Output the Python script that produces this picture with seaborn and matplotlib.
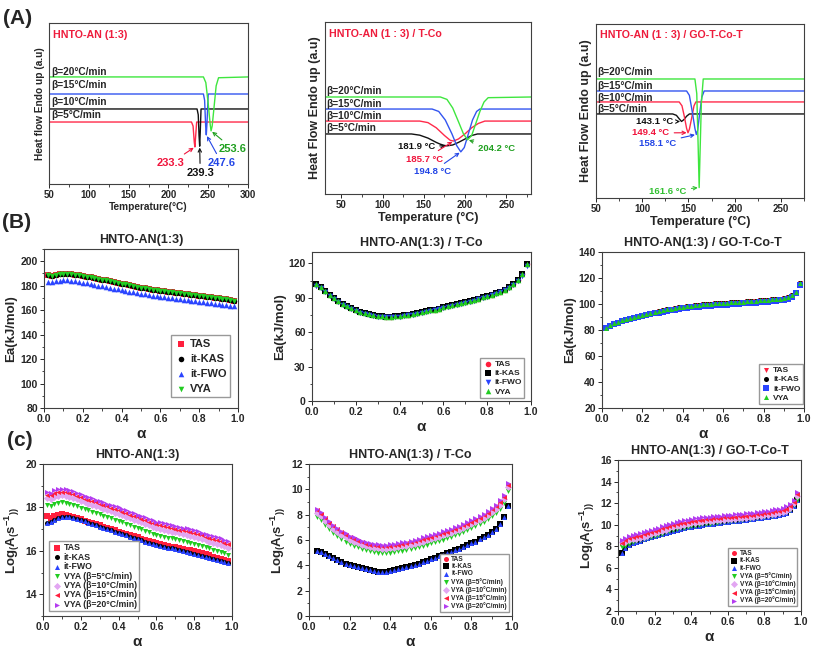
import numpy as np
import pandas as pd
import matplotlib
matplotlib.use("Agg")
import matplotlib.pyplot as plt
import seaborn as sns
from matplotlib.ticker import AutoMinorLocator

# ---------------- DSC curves (row A) ----------------
beta_labels = ['β=5°C/min', 'β=10°C/min', 'β=15°C/min', 'β=20°C/min']

a1_t5 = [50, 229, 231, 232.5, 233.3, 234, 235.5, 300]
a1_h5 = [3.85, 3.85, 3.6, 2.6, 2.3, 2.8, 3.85, 3.85]
a1_t10 = [50, 236, 237.5, 238.5, 239.3, 240, 241, 300]
a1_h10 = [4.66, 4.66, 4.3, 3.0, 2.35, 3.2, 4.66, 4.66]
a1_t15 = [50, 244, 245.5, 246.8, 247.6, 248.5, 250, 300]
a1_h15 = [5.59, 5.59, 5.2, 3.6, 3.05, 3.8, 5.59, 5.59]
a1_t20 = [50, 244, 247, 250, 252.5, 253.6, 255, 257, 260, 263, 300]
a1_h20 = [6.65, 6.65, 6.3, 5.0, 3.7, 3.3, 3.6, 4.6, 6.1, 6.6, 6.65]
a1_peaks = [233.3, 239.3, 247.6, 253.6]

a2_t5 = [30, 135, 145, 155, 165, 172, 178, 185, 192, 200, 208, 215, 280]
a2_h5 = [3.49, 3.49, 3.42, 3.25, 3.0, 2.85, 2.8, 2.85, 3.0, 3.2, 3.4, 3.49, 3.49]
a2_t10 = [30, 145, 155, 165, 175, 182, 186, 192, 200, 208, 216, 224, 280]
a2_h10 = [4.24, 4.24, 4.15, 3.85, 3.4, 3.12, 3.08, 3.2, 3.5, 3.85, 4.1, 4.24, 4.24]
a2_t15 = [30, 160, 168, 176, 184, 190, 194.8, 199, 204, 209, 214, 218, 280]
a2_h15 = [4.94, 4.94, 4.8, 4.3, 3.5, 2.8, 2.45, 2.7, 3.5, 4.3, 4.8, 4.94, 4.94]
a2_t20 = [30, 170, 178, 185, 192, 198, 203, 208, 213, 218, 223, 228, 280]
a2_h20 = [5.64, 5.64, 5.5, 5.0, 4.2, 3.5, 3.15, 3.4, 4.1, 4.8, 5.35, 5.6, 5.64]
a2_peaks = [181.9, 185.7, 194.8, 204.2]

a3_t5 = [50, 133, 137, 140, 142.5, 145, 148, 151, 275]
a3_h5 = [4.83, 4.83, 4.75, 4.55, 4.4, 4.5, 4.7, 4.83, 4.83]
a3_t10 = [50, 140, 143, 145.5, 148, 149.5, 151, 153.5, 156, 158, 275]
a3_h10 = [5.52, 5.52, 5.3, 4.7, 4.0, 3.75, 3.95, 4.6, 5.3, 5.52, 5.52]
a3_t15 = [50, 148, 151, 154, 157, 158.5, 160, 162, 164.5, 167, 275]
a3_h15 = [6.15, 6.15, 5.9, 5.0, 4.0, 3.65, 3.9, 4.8, 5.8, 6.15, 6.15]
a3_t20 = [50, 157, 159, 160.5, 161.6, 162.5, 164, 166, 275]
a3_h20 = [6.84, 6.84, 6.0, 3.0, 0.6, 2.5, 5.5, 6.84, 6.84]
a3_peaks = [143.1, 149.4, 158.1, 161.6]

# ---------------- conversion grid ----------------
alpha = [0.02, 0.04, 0.06, 0.08, 0.10, 0.12, 0.14, 0.16, 0.18, 0.20,
         0.22, 0.24, 0.26, 0.28, 0.30, 0.32, 0.34, 0.36, 0.38, 0.40,
         0.42, 0.44, 0.46, 0.48, 0.50, 0.52, 0.54, 0.56, 0.58, 0.60,
         0.62, 0.64, 0.66, 0.68, 0.70, 0.72, 0.74, 0.76, 0.78, 0.80,
         0.82, 0.84, 0.86, 0.88, 0.90, 0.92, 0.94, 0.96, 0.98]
alpha_c2 = alpha[1:]

# ---------------- Ea (row B) ----------------
b1_ea_main = [188.5, 188.0, 188.8, 189.5, 189.6, 189.5, 189.4, 189.0, 188.6, 188.0,
              187.5, 186.9, 186.3, 185.7, 185.0, 184.4, 183.7, 183.0, 182.3, 181.6,
              181.0, 180.3, 179.7, 179.1, 178.5, 177.9, 177.3, 176.8, 176.2, 175.7,
              175.3, 174.9, 174.5, 174.1, 173.7, 173.3, 172.9, 172.5, 172.1, 171.7,
              171.3, 170.9, 170.5, 170.1, 169.7, 169.3, 168.9, 168.4, 167.8]
b1_ea_fwo = [183.0, 182.8, 183.5, 184.2, 184.4, 184.3, 184.1, 183.7, 183.2, 182.6,
             182.0, 181.4, 180.8, 180.1, 179.5, 178.8, 178.1, 177.5, 176.9, 176.3,
             175.7, 175.1, 174.5, 173.9, 173.3, 172.8, 172.3, 171.8, 171.3, 170.9,
             170.5, 170.1, 169.7, 169.3, 168.9, 168.5, 168.1, 167.7, 167.3, 166.9,
             166.5, 166.1, 165.7, 165.3, 164.9, 164.5, 164.1, 163.6, 163.0]

b2_ea_main = [102.0, 99.6, 96.0, 92.8, 89.8, 87.0, 84.6, 82.6, 80.8, 79.2,
              77.8, 76.6, 75.6, 74.8, 74.2, 73.8, 73.6, 73.6, 73.8, 74.2,
              74.7, 75.3, 76.0, 76.7, 77.4, 78.2, 79.0, 79.8, 80.7, 81.6,
              82.5, 83.4, 84.3, 85.2, 86.2, 87.2, 88.2, 89.3, 90.4, 91.6,
              92.8, 94.0, 95.5, 97.2, 99.5, 102.0, 105.5, 110.5, 119.5]
b2_ea_fwo = [100.5, 98.4, 95.0, 91.9, 89.0, 86.3, 84.0, 82.0, 80.2, 78.6,
             77.2, 76.0, 75.0, 74.2, 73.6, 73.2, 73.0, 73.0, 73.2, 73.6,
             74.1, 74.7, 75.4, 76.1, 76.8, 77.6, 78.4, 79.2, 80.1, 81.0,
             81.9, 82.8, 83.7, 84.6, 85.6, 86.6, 87.6, 88.7, 89.8, 91.0,
             92.2, 93.4, 94.9, 96.6, 98.8, 101.2, 104.5, 109.0, 117.5]

b3_ea_main = [81.8, 83.6, 85.2, 86.5, 87.6, 88.6, 89.5, 90.3, 91.1, 91.9,
              92.6, 93.3, 94.0, 94.7, 95.3, 95.9, 96.5, 97.0, 97.5, 98.0,
              98.4, 98.8, 99.2, 99.5, 99.8, 100.1, 100.3, 100.5, 100.7, 100.9,
              101.1, 101.3, 101.5, 101.7, 101.9, 102.1, 102.3, 102.5, 102.7, 102.9,
              103.2, 103.5, 103.8, 104.2, 104.7, 105.4, 106.6, 109.5, 116.5]
b3_ea_fwo = [81.2, 82.8, 84.3, 85.5, 86.6, 87.5, 88.4, 89.2, 90.0, 90.7,
             91.4, 92.1, 92.8, 93.4, 94.0, 94.6, 95.1, 95.6, 96.1, 96.6,
             97.0, 97.4, 97.7, 98.0, 98.3, 98.6, 98.8, 99.0, 99.2, 99.4,
             99.6, 99.8, 100.0, 100.2, 100.4, 100.6, 100.8, 101.0, 101.2, 101.4,
             101.7, 102.0, 102.3, 102.7, 103.2, 104.0, 105.4, 108.3, 114.5]

# ---------------- log A (row C) ----------------
c1_tas = [17.60, 17.52, 17.60, 17.66, 17.68, 17.66, 17.62, 17.57, 17.51, 17.45,
          17.39, 17.34, 17.28, 17.22, 17.17, 17.11, 17.05, 17.00, 16.94, 16.88,
          16.83, 16.78, 16.72, 16.67, 16.62, 16.56, 16.51, 16.46, 16.40, 16.35,
          16.31, 16.27, 16.24, 16.20, 16.16, 16.13, 16.09, 16.05, 16.02, 15.98,
          15.93, 15.88, 15.84, 15.79, 15.74, 15.69, 15.64, 15.60, 15.55]
c1_iso = [17.30, 17.32, 17.42, 17.52, 17.57, 17.58, 17.57, 17.53, 17.48, 17.42,
          17.36, 17.30, 17.24, 17.18, 17.12, 17.06, 17.00, 16.94, 16.88, 16.82,
          16.76, 16.71, 16.65, 16.60, 16.54, 16.49, 16.43, 16.38, 16.32, 16.27,
          16.23, 16.19, 16.15, 16.11, 16.07, 16.03, 15.99, 15.95, 15.91, 15.87,
          15.82, 15.77, 15.73, 15.68, 15.63, 15.58, 15.54, 15.49, 15.44]
c1_vya5 = [18.10, 18.06, 18.16, 18.22, 18.24, 18.22, 18.18, 18.12, 18.05, 17.98,
           17.92, 17.86, 17.80, 17.74, 17.68, 17.62, 17.56, 17.50, 17.44, 17.38,
           17.31, 17.25, 17.18, 17.12, 17.05, 16.99, 16.92, 16.86, 16.79, 16.73,
           16.69, 16.65, 16.61, 16.57, 16.53, 16.49, 16.45, 16.41, 16.37, 16.33,
           16.28, 16.22, 16.17, 16.11, 16.06, 16.00, 15.95, 15.89, 15.83]
c1_vya10 = [18.42, 18.38, 18.48, 18.54, 18.56, 18.54, 18.50, 18.44, 18.37, 18.30,
            18.24, 18.18, 18.12, 18.06, 18.00, 17.94, 17.88, 17.82, 17.76, 17.70,
            17.63, 17.57, 17.50, 17.44, 17.37, 17.31, 17.24, 17.18, 17.11, 17.05,
            17.01, 16.97, 16.93, 16.89, 16.85, 16.81, 16.77, 16.73, 16.69, 16.65,
            16.60, 16.54, 16.49, 16.43, 16.38, 16.32, 16.27, 16.21, 16.15]
c1_vya15 = [18.59, 18.55, 18.65, 18.71, 18.73, 18.71, 18.67, 18.61, 18.54, 18.47,
            18.41, 18.35, 18.29, 18.23, 18.17, 18.11, 18.05, 17.99, 17.93, 17.87,
            17.80, 17.74, 17.67, 17.61, 17.54, 17.48, 17.41, 17.35, 17.28, 17.22,
            17.18, 17.14, 17.10, 17.06, 17.02, 16.98, 16.94, 16.90, 16.86, 16.82,
            16.77, 16.71, 16.66, 16.60, 16.55, 16.49, 16.44, 16.38, 16.32]
c1_vya20 = [18.72, 18.68, 18.78, 18.84, 18.86, 18.84, 18.80, 18.74, 18.67, 18.60,
            18.54, 18.48, 18.42, 18.36, 18.30, 18.24, 18.18, 18.12, 18.06, 18.00,
            17.93, 17.87, 17.80, 17.74, 17.67, 17.61, 17.54, 17.48, 17.41, 17.35,
            17.31, 17.27, 17.23, 17.19, 17.15, 17.11, 17.07, 17.03, 16.99, 16.95,
            16.90, 16.84, 16.79, 16.73, 16.68, 16.62, 16.57, 16.51, 16.45]

c2_tas = [8.25, 8.00, 7.65, 7.30, 7.00, 6.75, 6.52, 6.32, 6.15,
          6.00, 5.86, 5.74, 5.64, 5.56, 5.50, 5.46, 5.44, 5.44, 5.46,
          5.50, 5.55, 5.61, 5.68, 5.75, 5.83, 5.91, 6.00, 6.09, 6.18,
          6.28, 6.38, 6.48, 6.59, 6.70, 6.82, 6.94, 7.07, 7.21, 7.36,
          7.52, 7.69, 7.88, 8.09, 8.33, 8.60, 8.92, 9.35, 10.30]
c2_iso = [5.10, 5.02, 4.88, 4.72, 4.56, 4.40, 4.26, 4.14, 4.03,
          3.93, 3.84, 3.76, 3.68, 3.60, 3.53, 3.48, 3.46, 3.48, 3.53,
          3.60, 3.68, 3.76, 3.85, 3.94, 4.04, 4.14, 4.25, 4.36, 4.47,
          4.58, 4.70, 4.82, 4.94, 5.06, 5.19, 5.32, 5.45, 5.59, 5.73,
          5.88, 6.04, 6.21, 6.40, 6.62, 6.90, 7.30, 7.85, 8.65]
c2_vya5 = [7.80, 7.55, 7.20, 6.85, 6.55, 6.30, 6.07, 5.87, 5.70,
           5.55, 5.41, 5.29, 5.19, 5.11, 5.05, 5.01, 4.99, 4.99, 5.01,
           5.05, 5.10, 5.16, 5.23, 5.30, 5.38, 5.46, 5.55, 5.64, 5.73,
           5.83, 5.93, 6.03, 6.14, 6.25, 6.37, 6.49, 6.62, 6.76, 6.91,
           7.07, 7.24, 7.43, 7.64, 7.88, 8.15, 8.47, 8.95, 9.90]
c2_vya10 = [8.13, 7.88, 7.53, 7.18, 6.88, 6.63, 6.40, 6.20, 6.03,
            5.88, 5.74, 5.62, 5.52, 5.44, 5.38, 5.34, 5.32, 5.32, 5.34,
            5.38, 5.43, 5.49, 5.56, 5.63, 5.71, 5.79, 5.88, 5.97, 6.06,
            6.16, 6.26, 6.36, 6.47, 6.58, 6.70, 6.82, 6.95, 7.09, 7.24,
            7.40, 7.57, 7.76, 7.97, 8.21, 8.48, 8.80, 9.23, 10.18]
c2_vya15 = [8.33, 8.08, 7.73, 7.38, 7.08, 6.83, 6.60, 6.40, 6.23,
            6.08, 5.94, 5.82, 5.72, 5.64, 5.58, 5.54, 5.52, 5.52, 5.54,
            5.58, 5.63, 5.69, 5.76, 5.83, 5.91, 5.99, 6.08, 6.17, 6.26,
            6.36, 6.46, 6.56, 6.67, 6.78, 6.90, 7.02, 7.15, 7.29, 7.44,
            7.60, 7.77, 7.96, 8.17, 8.41, 8.68, 9.00, 9.43, 10.38]
c2_vya20 = [8.45, 8.20, 7.85, 7.50, 7.20, 6.95, 6.72, 6.52, 6.35,
            6.20, 6.06, 5.94, 5.84, 5.76, 5.70, 5.66, 5.64, 5.64, 5.66,
            5.70, 5.75, 5.81, 5.88, 5.95, 6.03, 6.11, 6.20, 6.29, 6.38,
            6.48, 6.58, 6.68, 6.79, 6.90, 7.02, 7.14, 7.27, 7.41, 7.56,
            7.72, 7.89, 8.08, 8.29, 8.53, 8.80, 9.12, 9.55, 10.50]

c3_tas = [8.25, 8.45, 8.62, 8.74, 8.82, 8.90, 9.00, 9.10, 9.22, 9.33,
          9.44, 9.55, 9.65, 9.75, 9.85, 9.94, 10.02, 10.10, 10.17, 10.23,
          10.28, 10.33, 10.37, 10.41, 10.45, 10.48, 10.51, 10.54, 10.57, 10.60,
          10.63, 10.66, 10.69, 10.72, 10.75, 10.79, 10.83, 10.87, 10.91, 10.96,
          11.01, 11.07, 11.13, 11.20, 11.28, 11.40, 11.62, 12.05, 12.75]
c3_iso = [7.35, 7.85, 8.10, 8.26, 8.40, 8.52, 8.63, 8.73, 8.83, 8.93,
          9.03, 9.13, 9.23, 9.33, 9.43, 9.52, 9.60, 9.68, 9.75, 9.81,
          9.87, 9.92, 9.97, 10.02, 10.06, 10.10, 10.14, 10.18, 10.22, 10.26,
          10.30, 10.34, 10.38, 10.42, 10.46, 10.50, 10.54, 10.58, 10.62, 10.67,
          10.72, 10.78, 10.84, 10.91, 10.99, 11.10, 11.35, 11.75, 12.25]
c3_vya5 = [7.95, 8.05, 8.22, 8.36, 8.48, 8.58, 8.68, 8.78, 8.88, 8.98,
           9.08, 9.18, 9.28, 9.38, 9.48, 9.57, 9.65, 9.73, 9.80, 9.86,
           9.92, 9.97, 10.02, 10.07, 10.11, 10.15, 10.19, 10.23, 10.27, 10.31,
           10.35, 10.39, 10.43, 10.47, 10.51, 10.55, 10.59, 10.63, 10.67, 10.72,
           10.77, 10.83, 10.89, 10.96, 11.04, 11.15, 11.40, 11.80, 12.30]
c3_vya10 = [8.40, 8.38, 8.55, 8.65, 8.72, 8.80, 8.90, 9.00, 9.12, 9.23,
            9.34, 9.45, 9.55, 9.65, 9.75, 9.84, 9.92, 10.00, 10.07, 10.13,
            10.18, 10.23, 10.27, 10.31, 10.35, 10.38, 10.41, 10.44, 10.47, 10.50,
            10.53, 10.56, 10.59, 10.62, 10.65, 10.69, 10.73, 10.77, 10.81, 10.86,
            10.91, 10.97, 11.03, 11.10, 11.18, 11.30, 11.55, 11.98, 12.70]
c3_vya15 = [8.35, 8.60, 8.75, 8.85, 8.92, 9.00, 9.10, 9.20, 9.32, 9.43,
            9.54, 9.65, 9.75, 9.85, 9.95, 10.04, 10.12, 10.20, 10.27, 10.33,
            10.38, 10.43, 10.47, 10.51, 10.55, 10.58, 10.61, 10.64, 10.67, 10.70,
            10.73, 10.76, 10.79, 10.82, 10.85, 10.89, 10.93, 10.97, 11.01, 11.06,
            11.11, 11.17, 11.23, 11.30, 11.38, 11.50, 11.72, 12.12, 12.85]
c3_vya20 = [8.55, 8.80, 8.95, 9.05, 9.12, 9.20, 9.30, 9.40, 9.52, 9.63,
            9.74, 9.85, 9.95, 10.05, 10.15, 10.24, 10.32, 10.40, 10.47, 10.53,
            10.58, 10.63, 10.67, 10.71, 10.75, 10.78, 10.81, 10.84, 10.87, 10.90,
            10.93, 10.96, 10.99, 11.02, 11.05, 11.09, 11.13, 11.17, 11.21, 11.26,
            11.31, 11.37, 11.43, 11.50, 11.58, 11.70, 11.90, 12.30, 13.00]

# ---------------- style ----------------
sns.set_style("ticks")
plt.rcParams.update({
    'font.family': ['Liberation Sans', 'DejaVu Sans'],
    'font.weight': 'bold',
    'axes.labelweight': 'bold',
    'axes.titleweight': 'bold',
    'mathtext.fontset': 'custom',
    'mathtext.rm': 'Liberation Sans:bold',
    'mathtext.bf': 'Liberation Sans:bold',
    'mathtext.default': 'rm',
    'axes.linewidth': 0.8,
    'axes.edgecolor': '0.25',
    'xtick.major.size': 3, 'ytick.major.size': 3,
    'xtick.minor.size': 1.8, 'ytick.minor.size': 1.8,
    'xtick.major.width': 0.7, 'ytick.major.width': 0.7,
    'xtick.major.pad': 1.5, 'ytick.major.pad': 1.5,
})

RED, BLACK, BLUE, GREEN = '#ff1f3d', '#000000', '#2b45ff', '#22cc22'
PINK, VIOLET = '#e2a6f2', '#b43cf0'
L_BLK, L_RED, L_BLU, L_GRN = '#111111', '#ff2a4a', '#3355f0', '#3ee63e'
N_BLK, N_RED, N_BLU, N_GRN = '#111111', '#f0143c', '#2346e6', '#20a020'
title_red = '#ee1c3c'

W, H = 813, 649
fig = plt.figure(figsize=(W / 100, H / 100), dpi=100)


def place(l, t, r, b):
    return fig.add_axes([l / W, 1 - b / H, (r - l) / W, (b - t) / H])


def dsc_panel(box, curves, peaks, line_cols, note_cols, xlim, xticks, title, title_y,
              ylab, xlab, lab_fs, lab_y, lab_x, notes, unit, note_fs):
    ax = place(*box)
    for (t, h), c in zip(curves, line_cols):
        sns.lineplot(x=t, y=h, ax=ax, color=c, lw=1.0, sort=False, estimator=None)
    ax.set_xlim(xlim)
    ax.set_ylim(0, 10)
    ax.set_yticks([])
    ax.set_xticks(xticks)
    ax.xaxis.set_minor_locator(AutoMinorLocator(2))
    ax.tick_params(axis='x', labelsize=7)
    ax.set_xlabel(xlab, fontsize=lab_fs, labelpad=1)
    ax.set_ylabel(ylab, fontsize=lab_fs, labelpad=3)
    for txt, y in zip(beta_labels, lab_y):
        ax.text(lab_x, y, txt, fontsize=7.3, va='center')
    ax.text(0.02, title_y, title, transform=ax.transAxes, color=title_red,
            fontsize=7.7, va='center')
    for i, (t, h) in enumerate(curves):
        k = int(np.argmin(h))
        ax.annotate(f"{peaks[i]}{unit}", xy=(t[k], h[k]), xytext=notes[i],
                    fontsize=note_fs, color=note_cols[i], ha='center', va='center',
                    arrowprops=dict(arrowstyle='->', color=note_cols[i], lw=0.8,
                                    mutation_scale=6, shrinkA=1, shrinkB=1))
    return ax


dsc_panel((49, 23, 248, 184),
          [(a1_t5, a1_h5), (a1_t10, a1_h10), (a1_t15, a1_h15), (a1_t20, a1_h20)],
          a1_peaks, [L_RED, L_BLK, L_BLU, L_GRN], [N_RED, N_BLK, N_BLU, N_GRN],
          (50, 300), [50, 100, 150, 200, 250, 300],
          'HNTO-AN (1:3)', 0.925, 'Heat flow Endo up (a.u)', 'Temperature(°C)', 7.3,
          [4.3, 5.1, 6.15, 6.96], 53,
          [(203, 1.3), (240, 0.68), (267, 1.3), (281, 2.17)], '', 8)

dsc_panel((325, 22, 531, 194),
          [(a2_t5, a2_h5), (a2_t10, a2_h10), (a2_t15, a2_h15), (a2_t20, a2_h20)],
          a2_peaks, [L_BLK, L_RED, L_BLU, L_GRN], [N_BLK, N_RED, N_BLU, N_GRN],
          (30, 280), [50, 100, 150, 200, 250],
          'HNTO-AN (1 : 3) / T-Co', 0.93, 'Heat Flow Endo up (a.u)', 'Temperature (°C)', 9,
          [3.83, 4.53, 5.23, 6.0], 32,
          [(141, 2.79), (151, 2.03), (160, 1.28), (238, 2.67)], ' °C', 6.8)

dsc_panel((596, 24, 804, 198),
          [(a3_t5, a3_h5), (a3_t10, a3_h10), (a3_t15, a3_h15), (a3_t20, a3_h20)],
          a3_peaks, [L_BLK, L_RED, L_BLU, L_GRN], [N_BLK, N_RED, N_BLU, '#30c030'],
          (50, 275), [50, 100, 150, 200, 250],
          'HNTO-AN (1 : 3) / GO-T-Co-T', 0.937, 'Heat Flow Endo up (a.u)', 'Temperature (°C)', 9,
          [5.11, 5.75, 6.44, 7.24], 51,
          [(113, 4.37), (109.5, 3.74), (117, 3.16), (128, 0.4)], ' °C', 6.8)


def kin_panel(box, x, series, ylim, yticks, title, ylab, s, leg_fs, leg_loc, leg_anchor, leg_sp):
    ax = place(*box)
    for vals, lab, mk, col in series:
        sns.scatterplot(x=x, y=vals, ax=ax, marker=mk, color=col, s=s, linewidth=0,
                        label=lab, legend=False)
    ax.set_xlim(0, 1)
    ax.set_ylim(ylim)
    ax.set_xticks([0.0, 0.2, 0.4, 0.6, 0.8, 1.0])
    ax.set_yticks(yticks)
    ax.xaxis.set_major_formatter(matplotlib.ticker.FormatStrFormatter('%.1f'))
    ax.xaxis.set_minor_locator(AutoMinorLocator(2))
    ax.yaxis.set_minor_locator(AutoMinorLocator(2))
    ax.tick_params(labelsize=7.5)
    ax.set_title(title, fontsize=9, pad=4)
    ax.set_ylabel(ylab, fontsize=9.5, labelpad=2)
    ax.set_xlabel('α', fontsize=11, labelpad=2)
    ax.legend(loc=leg_loc, bbox_to_anchor=leg_anchor, fontsize=leg_fs,
              frameon=True, fancybox=False, edgecolor='0.6', framealpha=1,
              borderpad=0.3, labelspacing=leg_sp, handletextpad=0.2,
              handlelength=1.2, borderaxespad=0)
    return ax


vya_names = ['VYA (β=5°C/min)', 'VYA (β=10°C/min)', 'VYA (β=15°C/min)', 'VYA (β=20°C/min)']

kin_panel((44, 249, 238, 408), alpha,
          [(b1_ea_main, 'TAS', 's', RED), (b1_ea_main, 'it-KAS', 'o', BLACK),
           (b1_ea_fwo, 'it-FWO', '^', BLUE), (b1_ea_main, 'VYA', 'v', GREEN)],
          (80, 210), [80, 100, 120, 140, 160, 180, 200], 'HNTO-AN(1:3)', 'Ea(kJ/mol)',
          16, 8, 'lower right', (0.96, 0.07), 0.45)

kin_panel((312, 252, 531, 401), alpha,
          [(b2_ea_main, 'TAS', 'o', RED), (b2_ea_main, 'it-KAS', 's', BLACK),
           (b2_ea_fwo, 'it-FWO', 'v', BLUE), (b2_ea_main, 'VYA', '^', GREEN)],
          (0, 130), [0, 30, 60, 90, 120], 'HNTO-AN(1:3) / T-Co', 'Ea(kJ/mol)',
          16, 6, 'lower right', (0.97, 0.02), 0.15)

kin_panel((602, 252, 804, 408), alpha,
          [(b3_ea_main, 'TAS', 'v', RED), (b3_ea_main, 'it-KAS', 'o', BLACK),
           (b3_ea_fwo, 'it-FWO', 's', BLUE), (b3_ea_main, 'VYA', '^', GREEN)],
          (20, 140), [20, 40, 60, 80, 100, 120, 140], 'HNTO-AN(1:3) / GO-T-Co-T', 'Ea(kJ/mol)',
          13, 6, 'lower right', (0.995, 0.025), 0.15)

loga = r"Log$_{(}$A$_{(}$s$^{-1}$$_{))}$"

kin_panel((43, 464, 232, 616), alpha,
          [(c1_tas, 'TAS', 's', RED), (c1_iso, 'it-KAS', 'o', BLACK),
           (c1_iso, 'it-FWO', '^', BLUE), (c1_vya5, vya_names[0], 'v', GREEN),
           (c1_vya10, vya_names[1], 'D', PINK), (c1_vya15, vya_names[2], '<', RED),
           (c1_vya20, vya_names[3], '>', VIOLET)],
          (13, 20), [14, 16, 18, 20], 'HNTO-AN(1:3)', loga,
          13, 6.3, 'lower left', (0.03, 0.03), 0.05)

kin_panel((309, 464, 512, 616), alpha_c2,
          [(c2_tas, 'TAS', 'o', RED), (c2_iso, 'it-KAS', 's', BLACK),
           (c2_iso, 'it-FWO', '^', BLUE), (c2_vya5, vya_names[0], 'v', GREEN),
           (c2_vya10, vya_names[1], 'D', PINK), (c2_vya15, vya_names[2], '<', RED),
           (c2_vya20, vya_names[3], '>', VIOLET)],
          (0, 12), [0, 2, 4, 6, 8, 10, 12], 'HNTO-AN(1:3) / T-Co', loga,
          13, 4.8, 'lower right', (0.985, 0.025), 0.05)

kin_panel((618, 460, 801, 611), alpha,
          [(c3_tas, 'TAS', 'o', RED), (c3_iso, 'it-KAS', 's', BLACK),
           (c3_iso, 'it-FWO', '^', BLUE), (c3_vya5, vya_names[0], 'v', GREEN),
           (c3_vya10, vya_names[1], 'D', PINK), (c3_vya15, vya_names[2], '<', RED),
           (c3_vya20, vya_names[3], '>', VIOLET)],
          (2, 16), [2, 4, 6, 8, 10, 12, 14, 16], 'HNTO-AN(1:3) / GO-T-Co-T', loga,
          13, 4.8, 'lower right', (0.98, 0.03), 0.05)

fig.text(18 / W, 1 - 19 / H, '(A)', fontsize=15, ha='center', va='center')
fig.text(17 / W, 1 - 222 / H, '(B)', fontsize=15, ha='center', va='center')
fig.text(20 / W, 1 - 440 / H, '(c)', fontsize=15, ha='center', va='center')

fig.savefig('out.png', dpi=100, facecolor='white')
